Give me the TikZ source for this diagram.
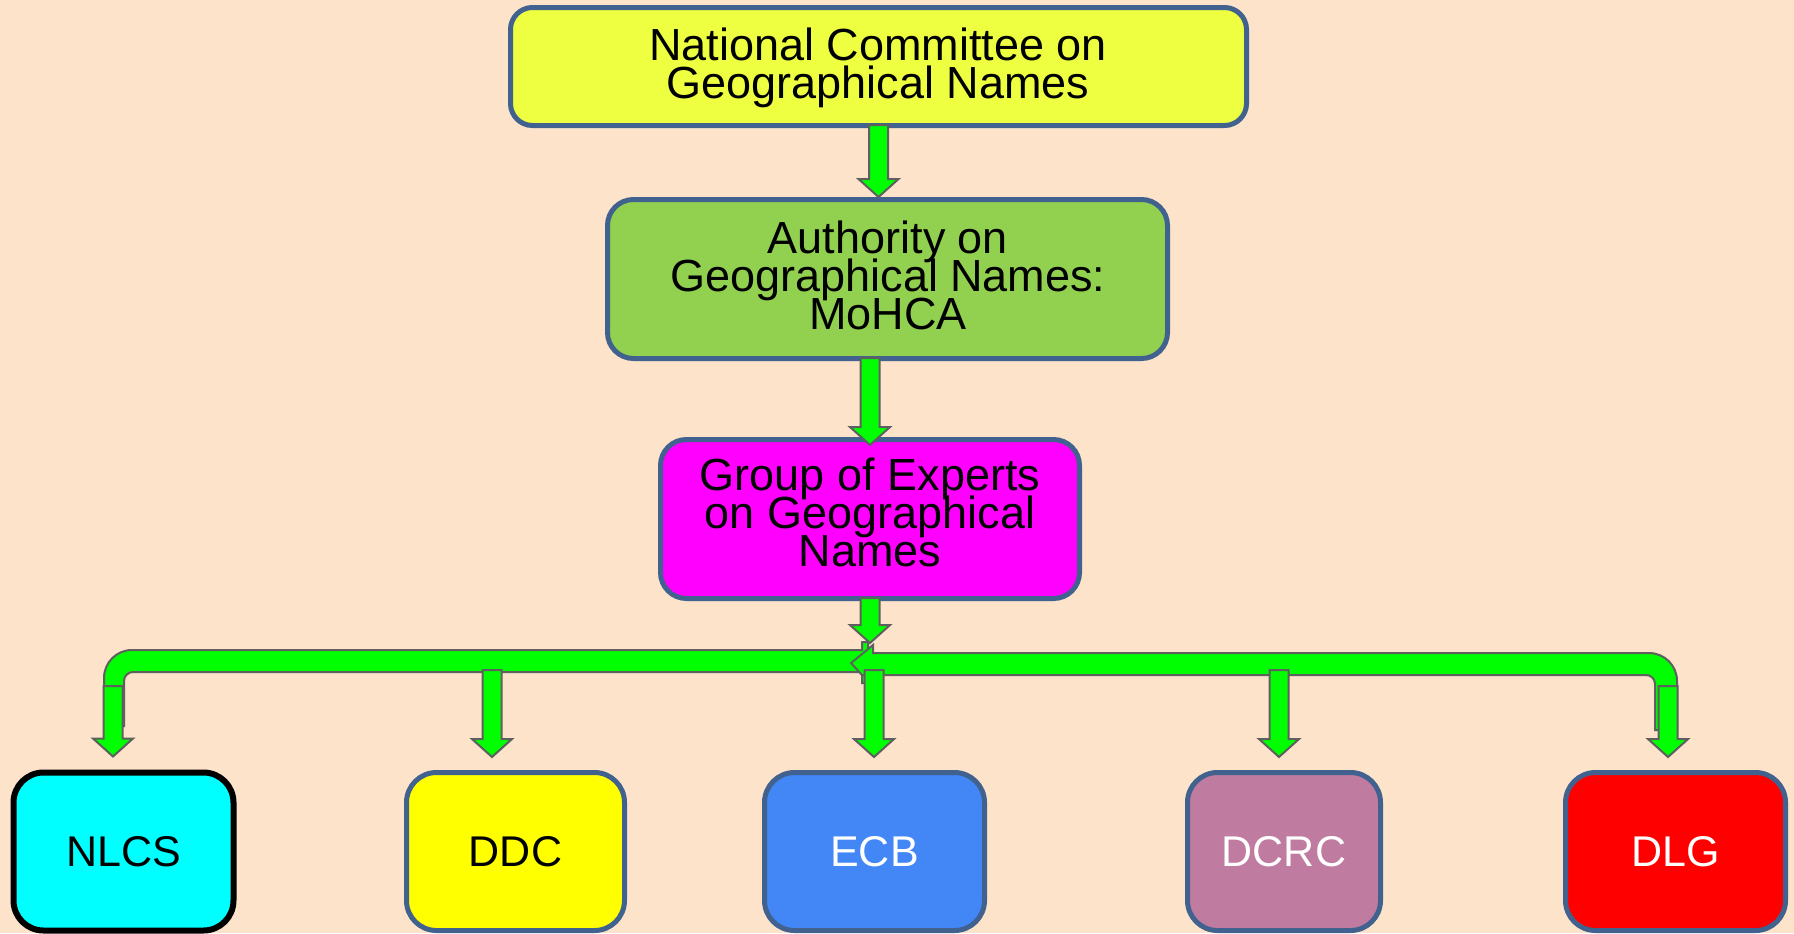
\documentclass[tikz,border=0pt]{standalone}
\usepackage{fontspec}
\setmainfont{Liberation Sans}
\usetikzlibrary{calc}
\definecolor{bg}{RGB}{252,227,202}
\definecolor{bordc}{RGB}{65,98,143}
\definecolor{cone}{RGB}{237,255,64}
\definecolor{ctwo}{RGB}{146,208,80}
\definecolor{cthree}{RGB}{255,0,255}
\definecolor{cnlcs}{RGB}{0,255,255}
\definecolor{cddc}{RGB}{255,255,0}
\definecolor{cecb}{RGB}{66,135,245}
\definecolor{cdcrc}{RGB}{192,124,160}
\definecolor{cdlg}{RGB}{255,0,0}
\definecolor{agreen}{RGB}{0,255,0}
\definecolor{agray}{RGB}{95,95,95}
\newcommand\tightfont{\fontsize{22.5pt}{19pt}\selectfont\lineskiplimit=-100pt\relax\lineskip=0pt\relax}
\tikzset{
  box/.style={draw=bordc, line width=2.5pt, rectangle, inner sep=0pt},
  leafbox/.style={box, rounded corners=15pt, minimum height=79pt, font=\fontsize{21.5pt}{24pt}\selectfont},
  bigtext/.style={inner sep=0pt, align=center, font=\tightfont, text=black},
  blockarrow/.style={fill=agreen, draw=agray, line width=1pt, line join=miter},
}
\newcommand\blockarrow[2]{%
  \path[blockarrow] let \p1=#1, \p2=#2 in
   (\x1-4.75pt,\y1) -- (\x1+4.75pt,\y1) -- (\x1+4.75pt,\y2+9pt) -- (\x1+10pt,\y2+9pt)
   -- (\x1,\y2) -- (\x1-10pt,\y2+9pt) -- (\x1-4.75pt,\y2+9pt) -- cycle;}
\begin{document}
\begin{tikzpicture}[x=0.5pt,y=-0.5pt]
\fill[bg] (0,0) rectangle (1794,933);
\useasboundingbox (0,0) rectangle (1794,933);
% main boxes
\node[box, fill=cone, rounded corners=11pt, minimum width=368pt, minimum height=59pt] (ncgn) at (878.5,66.5) {};
\node[box, fill=ctwo, rounded corners=13pt, minimum width=280pt, minimum height=79.5pt] (agn) at (887.5,279) {};
\node[box, fill=cthree, rounded corners=13pt, minimum width=209.5pt, minimum height=79.5pt] (gegn) at (870,519) {};
\node[bigtext, anchor=north] (ncgn-t) at (878,27) {National Committee on\\Geographical Names};
\node[bigtext, anchor=north] (agn-t) at (888,220) {Authority on\\Geographical Names:\\MoHCA};
\node[bigtext, anchor=north] (gegn-t) at (870,458) {Group of Experts\\on Geographical\\Names};
% bottom boxes
\node[leafbox, draw=black, line width=3pt, fill=cnlcs, minimum width=110pt, text=black] (nlcs) at (123.5,851.5) {NLCS};
\node[leafbox, fill=cddc, minimum width=109pt, text=black] (ddc) at (515.5,851.5) {DDC};
\node[leafbox, fill=cecb, minimum width=110pt, text=white] (ecb) at (874.5,851.5) {ECB};
\node[leafbox, fill=cdcrc, minimum width=96.5pt, text=white] (dcrc) at (1284,851.5) {DCRC};
\node[leafbox, fill=cdlg, minimum width=110pt, text=white] (dlg) at (1675.5,851.5) {DLG};
% arrows between main boxes
\coordinate (a2s) at (agn.south -| gegn.north);
\coordinate (hub) at (871,663);
\blockarrow{($(ncgn.south)+(0,-3)$)}{(agn.north)}
\blockarrow{($(a2s)+(0,-3)$)}{($(gegn.north)+(0,8)$)}
% distribution bars
\path[blockarrow] (868,642) -- (868,683) -- (862,683) -- (862,672) -- (133,672)
  .. controls (128,672) and (124,676) .. (124,681) -- (124,726) -- (104,726) -- (104,678)
  .. controls (104,662.5) and (116.5,650) .. (132,650) -- (862,650) -- (862,642) -- cycle;
\path[blockarrow] (873,645) -- (873,653) -- (1649,653)
  .. controls (1664.5,653) and (1677,665.5) .. (1677,681) -- (1677,730) -- (1655,730) -- (1655,684)
  .. controls (1655,679) and (1651,675) .. (1646,675) -- (862,675) -- (851,663) -- cycle;
\blockarrow{($(gegn.south)+(0,-3)$)}{($(hub)+(0,-20)$)}
% drops
\coordinate (dA) at (113,686);
\coordinate (dB) at (492,670);
\coordinate (dC) at (874,670);
\coordinate (dD) at (1279,670);
\coordinate (dE) at (1668,686);
\blockarrow{(dA)}{($(nlcs.north)+(0,-13)$)}
\blockarrow{(dB)}{($(ddc.north)+(0,-13)$)}
\blockarrow{(dC)}{($(ecb.north)+(0,-13)$)}
\blockarrow{(dD)}{($(dcrc.north)+(0,-13)$)}
\blockarrow{(dE)}{($(dlg.north)+(0,-13)$)}
\end{tikzpicture}
\end{document}
